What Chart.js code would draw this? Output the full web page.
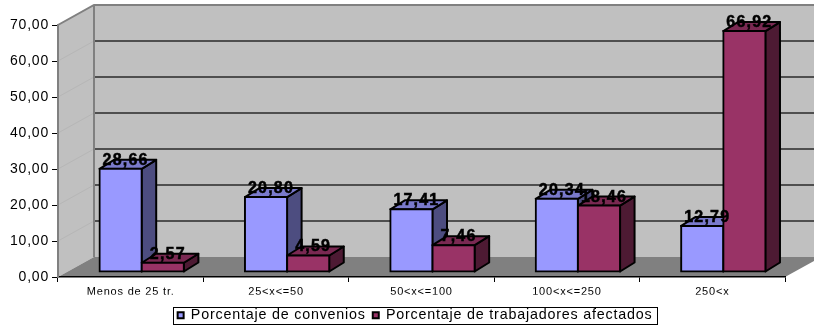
<!DOCTYPE html>
<html>
<head>
<meta charset="utf-8">
<script src="https://cdn.jsdelivr.net/npm/chart.js@4"></script>
<style>
html, body { margin: 0; padding: 0; background: #fff; }
canvas { display: block; }
</style>
</head>
<body>
<canvas id="c" width="814" height="326"></canvas>
<script>
const categories = ['Menos de 25 tr.', '25<x<=50', '50<x<=100', '100<x<=250', '250<x'];
const convenios = [28.66, 20.80, 17.41, 20.34, 12.79];
const trabajadores = [2.57, 4.59, 7.46, 18.46, 66.92];
const seriesNames = ['Porcentaje de convenios', 'Porcentaje de trabajadores afectados'];

const FONT = '"Liberation Sans", Arial, sans-serif';
const fmt = v => Number(v).toFixed(2).replace('.', ',');

// Depth of the box the bars stand in, and of the bars themselves
const WALL = { dx: 36, dy: -20 };
const BAR_SHIFT = { dx: 11, dy: -5 };
const BAR_DEPTH = { dx: 14.5, dy: -9 };
const LEGEND_FRAME = { left: 173, right: 657, top: 307, bottom: 324 };

function poly(ctx, pts, fill, stroke, width) {
  ctx.beginPath();
  pts.forEach((p, i) => i ? ctx.lineTo(p[0], p[1]) : ctx.moveTo(p[0], p[1]));
  ctx.closePath();
  if (fill) { ctx.fillStyle = fill; ctx.fill(); }
  if (stroke) { ctx.strokeStyle = stroke; ctx.lineWidth = width; ctx.lineJoin = 'round'; ctx.stroke(); }
}

const box3d = {
  id: 'box3d',
  beforeUpdate(chart) {
    chart.ctx.letterSpacing = '0.8px';
  },
  afterLayout(chart) {
    // legend stays centred on its frame under the plot; the wider span keeps it on one line
    const l = chart.legend;
    const mid = (LEGEND_FRAME.left + LEGEND_FRAME.right) / 2;
    l.left = mid - 320; l.right = mid + 320;
    l.top = 301; l.bottom = 329;
  },
  beforeDraw(chart) {
    const { ctx, scales: { x, y } } = chart;
    const L = x.left, R = x.right, T = y.getPixelForValue(70), B = y.getPixelForValue(0);
    const dx = WALL.dx, dy = WALL.dy;
    ctx.save();
    // side wall, back wall, floor
    poly(ctx, [[L, T], [L + dx, T + dy], [L + dx, B + dy], [L, B]], '#c0c0c0');
    poly(ctx, [[L + dx, T + dy], [R + dx, T + dy], [R + dx, B + dy], [L + dx, B + dy]], '#c0c0c0');
    poly(ctx, [[L, B], [L + dx, B + dy], [R + dx, B + dy], [R, B]], '#808080');
    // grid lines across the side wall and the back wall
    y.ticks.forEach(t => {
      const py = y.getPixelForValue(t.value);
      if (t.value === 0 || t.value === 70) return;
      ctx.strokeStyle = '#b6b6b6';
      ctx.lineWidth = 1;
      ctx.beginPath(); ctx.moveTo(L, py); ctx.lineTo(L + dx, py + dy); ctx.stroke();
      ctx.strokeStyle = '#2a2a2a';
      ctx.lineWidth = 1.4;
      ctx.beginPath(); ctx.moveTo(L + dx, py + dy); ctx.lineTo(R + dx, py + dy); ctx.stroke();
    });
    // wall outlines
    ctx.strokeStyle = '#808080';
    ctx.lineWidth = 2;
    ctx.beginPath();
    ctx.moveTo(L, B); ctx.lineTo(L, T); ctx.lineTo(L + dx, T + dy); ctx.lineTo(R + dx, T + dy);
    ctx.moveTo(L + dx, T + dy); ctx.lineTo(L + dx, B + dy);
    ctx.stroke();
    // legend frame
    const f = LEGEND_FRAME;
    ctx.strokeStyle = '#000';
    ctx.lineWidth = 1;
    ctx.strokeRect(f.left + 0.5, f.top + 0.5, f.right - f.left, f.bottom - f.top);
    ctx.restore();
  },
  beforeDatasetsDraw(chart) {
    // Series are painted in index order, so the later series
    // overlaps the side face of the earlier one.
    const ctx = chart.ctx;
    chart.data.datasets.forEach((ds, i) => {
      const meta = chart.getDatasetMeta(i);
      ctx.save();
      ctx.translate(BAR_SHIFT.dx, BAR_SHIFT.dy);
      meta.data.forEach(bar => {
        const l = bar.x - bar.width / 2, r = bar.x + bar.width / 2, t = bar.y, b = bar.base;
        const dx = BAR_DEPTH.dx, dy = BAR_DEPTH.dy;
        poly(ctx, [[r, t], [r + dx, t + dy], [r + dx, b + dy], [r, b]], ds.sideColor, '#000', 2);
        poly(ctx, [[l, t], [l + dx, t + dy], [r + dx, t + dy], [r, t]], ds.topColor, '#000', 2);
      });
      meta.controller.draw();
      ctx.restore();
    });
    // value labels above each bar
    ctx.save();
    ctx.font = 'bold 16px ' + FONT;
    ctx.letterSpacing = '1.2px';
    ctx.fillStyle = '#000';
    ctx.strokeStyle = '#000';
    ctx.lineWidth = 0.5;
    ctx.textAlign = 'center';
    ctx.textBaseline = 'alphabetic';
    chart.data.datasets.forEach((ds, i) => {
      chart.getDatasetMeta(i).data.forEach((bar, j) => {
        const tx = bar.x + BAR_SHIFT.dx + 5, ty = bar.y + BAR_SHIFT.dy - 4;
        ctx.fillText(fmt(ds.data[j]), tx, ty);
        ctx.strokeText(fmt(ds.data[j]), tx, ty);
      });
    });
    ctx.restore();
    return false;
  }
};

new Chart(document.getElementById('c'), {
  type: 'bar',
  plugins: [box3d],
  data: {
    labels: categories,
    datasets: [
      { label: seriesNames[0], data: convenios, backgroundColor: '#9999ff', sideColor: '#4d4d80', topColor: '#7a7acc',
        borderColor: '#000', borderWidth: 2, borderSkipped: false, inflateAmount: 1 },
      { label: seriesNames[1], data: trabajadores, backgroundColor: '#993366', sideColor: '#4d1a33', topColor: '#7a2952',
        borderColor: '#000', borderWidth: 2, borderSkipped: false, inflateAmount: 1 }
    ]
  },
  options: {
    responsive: false,
    animation: false,
    layout: { padding: { left: 0, right: 29, top: 25, bottom: 0 } },
    categoryPercentage: 0.58,
    barPercentage: 1,
    plugins: {
      tooltip: { enabled: false },
      title: { display: false },
      legend: {
        position: 'bottom',
        labels: {
          boxWidth: 6, boxHeight: 6, padding: 7,
          color: '#000',
          font: { family: FONT, size: 14.3 }
        }
      }
    },
    scales: {
      x: {
        afterFit(s) { s.height = 49 - (s.chart.legend ? s.chart.legend.height : 0); },
        grid: { drawOnChartArea: false, drawTicks: true, tickLength: 5, color: '#000' },
        border: { color: '#000', width: 1.5 },
        ticks: { color: '#000', font: { family: FONT, size: 11 }, maxRotation: 0, padding: 3 }
      },
      y: {
        min: 0, max: 70,
        afterFit(s) { s.width = 58; },
        grid: { drawOnChartArea: false, drawTicks: true, tickLength: 6, color: '#000' },
        border: { color: '#808080', width: 2 },
        ticks: { stepSize: 10, color: '#000', font: { family: FONT, size: 14 }, padding: 3, callback: v => fmt(v) }
      }
    }
  }
});
</script>
</body>
</html>
